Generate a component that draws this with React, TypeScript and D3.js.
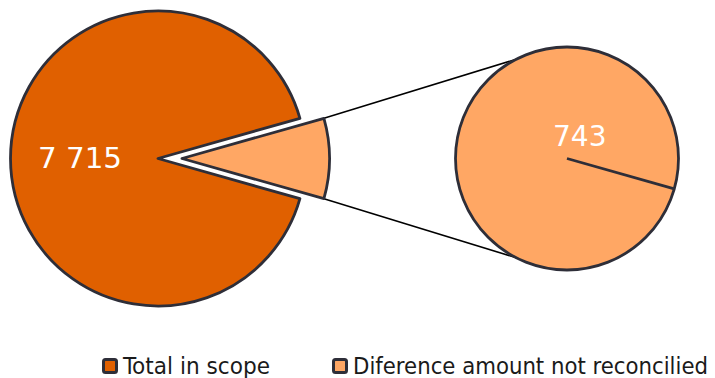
import React from "react";
import * as d3 from "d3";

const categories = ["Total in scope", "Diference amount not reconcilied"];
const values = [7715, 743];
const labels = ["7 715", "743"];
const colors = ["#E06000", "#FFA764"];

const W = 715;
const H = 378;
const STROKE = "#2E2E38";

export default function App() {
  const total = d3.sum(values);
  const half = (values[1] / total) * Math.PI; // half angle of small slice
  const mainC = { x: 158, y: 158.5 };
  const R = 147.5;
  const explode = 24;
  const subC = { x: 567, y: 158.5 };
  const r2 = 111.5;

  const pie = d3
    .pie<number>()
    .sort(null)
    .value((d) => d)
    .startAngle(Math.PI / 2 + half)
    .endAngle(Math.PI / 2 + half + 2 * Math.PI);
  const arcs = pie(values);
  const arc = d3.arc<d3.PieArcDatum<number>>().innerRadius(0).outerRadius(R);

  const small = arcs[1];
  const mid = (small.startAngle + small.endAngle) / 2;
  const ox = explode * Math.sin(mid);
  const oy = -explode * Math.cos(mid);

  const pie2 = d3
    .pie<number>()
    .sort(null)
    .value((d) => d)
    .startAngle(Math.PI / 2 + half)
    .endAngle(Math.PI / 2 + half + 2 * Math.PI);
  const arcs2 = pie2([values[1]]);
  const a0 = arcs2[0].startAngle;

  const pt = (cx: number, cy: number, r: number, ang: number) => [
    cx + r * Math.sin(ang),
    cy - r * Math.cos(ang),
  ];
  const sTop = pt(mainC.x + ox, mainC.y + oy, R, small.startAngle);
  const sBot = pt(mainC.x + ox, mainC.y + oy, R, small.endAngle);
  const connAng = (117 * Math.PI) / 180;
  const ctop = [subC.x + r2 * Math.cos(-connAng), subC.y + r2 * Math.sin(-connAng)];
  const cbot = [subC.x + r2 * Math.cos(connAng), subC.y + r2 * Math.sin(connAng)];
  const lineEnd = pt(subC.x, subC.y, r2, a0);

  const legendX = [102, 332];
  const legendTextW = [147, 355];

  return (
    <svg
      width={W}
      height={H}
      style={{ position: "absolute", left: 0, top: 0 }}
      fontFamily="DejaVu Sans"
    >
      <rect width={W} height={H} fill="#fff" />
      <line x1={sTop[0]} y1={sTop[1]} x2={ctop[0]} y2={ctop[1]} stroke="#000" strokeWidth={1.5} />
      <line x1={sBot[0]} y1={sBot[1]} x2={cbot[0]} y2={cbot[1]} stroke="#000" strokeWidth={1.5} />
      <g transform={`translate(${mainC.x},${mainC.y})`}>
        <path d={arc(arcs[0]) || ""} fill={colors[0]} stroke={STROKE} strokeWidth={2.8} strokeLinejoin="round" />
      </g>
      <g transform={`translate(${mainC.x + ox},${mainC.y + oy})`}>
        <path d={arc(small) || ""} fill={colors[1]} stroke={STROKE} strokeWidth={2.8} strokeLinejoin="round" />
      </g>
      <circle cx={subC.x} cy={subC.y} r={r2} fill={colors[1]} stroke={STROKE} strokeWidth={2.8} />
      <line x1={subC.x} y1={subC.y} x2={lineEnd[0]} y2={lineEnd[1]} stroke={STROKE} strokeWidth={2.8} />
      <text x={38} y={168} fill="#fff" fontSize={28} textLength={84} lengthAdjust="spacingAndGlyphs">
        {labels[0]}
      </text>
      <text x={553} y={146} fill="#fff" fontSize={28}>
        {labels[1]}
      </text>
      {categories.map((c, i) => (
        <g key={c}>
          <rect
            x={legendX[i] + 1.5}
            y={359.5}
            width={13}
            height={13}
            rx={2}
            fill={colors[i]}
            stroke={STROKE}
            strokeWidth={3}
          />
          <text
            x={legendX[i] + 21}
            y={374}
            fontSize={22.5}
            fontFamily="DejaVu Sans Condensed"
            fill="#1a1a1a"
            textLength={legendTextW[i]}
            lengthAdjust="spacingAndGlyphs"
          >
            {c}
          </text>
        </g>
      ))}
    </svg>
  );
}
